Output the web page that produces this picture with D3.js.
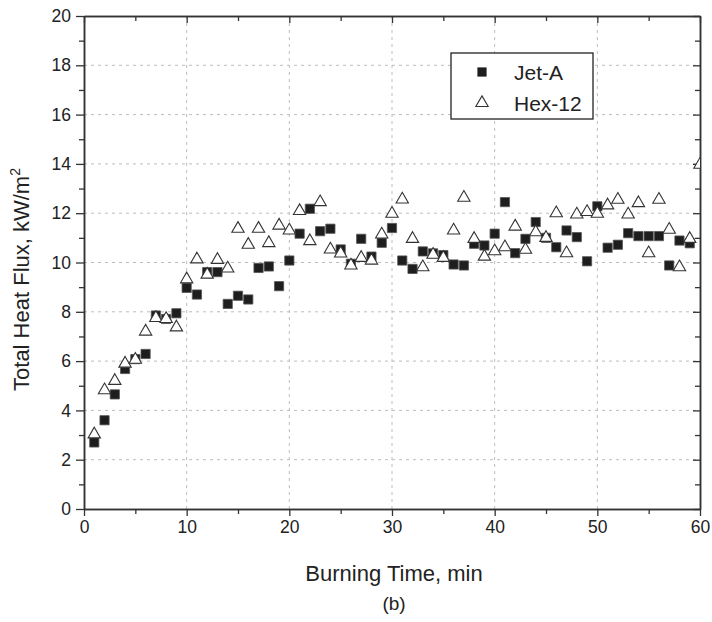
<!DOCTYPE html>
<html>
<head>
<meta charset="utf-8">
<script src="https://cdn.jsdelivr.net/npm/d3@7"></script>
<style>
  body { margin: 0; background: #fff; }
  text { font-family: "Liberation Sans", Arial, sans-serif; fill: #222; }
</style>
</head>
<body>
<div id="chart"></div>
<script>
const jetTime = d3.range(1, 60);
const jetFlux = [2.7, 3.6, 4.65, 5.68, 6.08, 6.29, 7.85, 7.71, 7.94, 8.97,
  8.70, 9.61, 9.61, 8.32, 8.65, 8.5, 9.78, 9.84, 9.04, 10.08,
  11.17, 12.18, 11.27, 11.37, 10.53, 9.95, 10.96, 10.24, 10.8, 11.4,
  10.08, 9.74, 10.45, 10.37, 10.3, 9.92, 9.88, 10.76, 10.69, 11.17,
  12.45, 10.38, 10.96, 11.64, 11.0, 10.62, 11.3, 11.03, 10.05, 12.28,
  10.6, 10.72, 11.19, 11.07, 11.07, 11.07, 9.88, 10.89, 10.78];

const hexTime = d3.range(1, 61);
const hexFlux = [3.03, 4.82, 5.2, 5.9, 6.06, 7.2, 7.75, 7.71, 7.37, 9.32,
  10.13, 9.51, 10.11, 9.76, 11.37, 10.72, 11.37, 10.79, 11.5, 11.3,
  12.09, 10.87, 12.45, 10.53, 10.37, 9.88, 10.19, 10.08, 11.14, 11.98,
  12.56, 10.96, 9.81, 10.32, 10.19, 11.3, 12.63, 10.96, 10.24, 10.46,
  10.62, 11.46, 10.52, 11.23, 11.0, 12.0, 10.38, 11.95, 12.05, 11.98,
  12.32, 12.55, 11.95, 12.41, 10.38, 12.55, 11.33, 9.81, 10.96, 13.97];

const xTicks = [0, 10, 20, 30, 40, 50, 60];
const yTicks = [0, 2, 4, 6, 8, 10, 12, 14, 16, 18, 20];
const seriesNames = ["Jet-A", "Hex-12"];

const margin = {top: 16, right: 12, bottom: 113, left: 84};
const width = 712 - margin.left - margin.right;
const height = 622 - margin.top - margin.bottom;

const svg = d3.select("#chart")
  .append("svg")
  .attr("width", 712)
  .attr("height", 622)
  .append("g")
  .attr("transform", `translate(${margin.left},${margin.top})`);

const x = d3.scaleLinear().domain([0, 60]).range([0, width]);
const y = d3.scaleLinear().domain([0, 20]).range([height, 0]);

// grid
svg.append("g").selectAll("line")
  .data(xTicks.slice(1, -1))
  .enter().append("line")
  .attr("x1", d => x(d)).attr("x2", d => x(d))
  .attr("y1", 0).attr("y2", height)
  .attr("stroke", "#bdbdbd").attr("stroke-dasharray", "3,4");
svg.append("g").selectAll("line")
  .data(yTicks.slice(1, -1))
  .enter().append("line")
  .attr("x1", 0).attr("x2", width)
  .attr("y1", d => y(d)).attr("y2", d => y(d))
  .attr("stroke", "#bdbdbd").attr("stroke-dasharray", "3,4");

// axes
function styleAxis(g) {
  g.select(".domain").attr("stroke", "#333").attr("stroke-width", 1.5);
  g.selectAll(".tick line").attr("stroke", "#333").attr("stroke-width", 1.3);
  g.selectAll("text").style("font-size", "17.5px").attr("fill", "#222");
}
const xMinor = d3.range(5, 60, 10);
const yMinor = d3.range(1, 20, 2);

svg.append("g")
  .attr("transform", `translate(0,${height})`)
  .call(d3.axisBottom(x).tickValues(xTicks).tickSize(7).tickPadding(5).tickSizeOuter(0))
  .call(styleAxis);
svg.append("g")
  .attr("transform", `translate(0,${height})`)
  .call(d3.axisBottom(x).tickValues(xMinor).tickSize(5).tickFormat("").tickSizeOuter(0))
  .call(styleAxis);
svg.append("g")
  .call(d3.axisTop(x).tickValues(xTicks).tickSize(-7).tickFormat("").tickSizeOuter(0))
  .call(styleAxis);
svg.append("g")
  .call(d3.axisTop(x).tickValues(xMinor).tickSize(-5).tickFormat("").tickSizeOuter(0))
  .call(styleAxis);

svg.append("g")
  .call(d3.axisLeft(y).tickValues(yTicks).tickSize(8).tickPadding(5).tickSizeOuter(0))
  .call(styleAxis);
svg.append("g")
  .call(d3.axisLeft(y).tickValues(yMinor).tickSize(5).tickFormat("").tickSizeOuter(0))
  .call(styleAxis);
svg.append("g")
  .attr("transform", `translate(${width},0)`)
  .call(d3.axisRight(y).tickValues(yTicks).tickSize(-7).tickFormat("").tickSizeOuter(0))
  .call(styleAxis);
svg.append("g")
  .attr("transform", `translate(${width},0)`)
  .call(d3.axisRight(y).tickValues(yMinor).tickSize(-5).tickFormat("").tickSizeOuter(0))
  .call(styleAxis);

// clip for points on the border
svg.append("clipPath").attr("id", "plotclip")
  .append("rect").attr("width", width).attr("height", height);

const jetData = jetTime.map((t, i) => ({t: t, v: jetFlux[i]}));
const hexData = hexTime.map((t, i) => ({t: t, v: hexFlux[i]}));

const pts = svg.append("g").attr("clip-path", "url(#plotclip)");

pts.selectAll(".jet")
  .data(jetData)
  .enter().append("path")
  .attr("class", "jet")
  .attr("d", d3.symbol(d3.symbolSquare, 85))
  .attr("transform", d => `translate(${x(d.t)},${y(d.v)})`)
  .attr("fill", "#1e1e1e")
  .attr("stroke", "#555").attr("stroke-width", 0.8);

pts.selectAll(".hex")
  .data(hexData)
  .enter().append("path")
  .attr("class", "hex")
  .attr("d", d3.symbol(d3.symbolTriangle, 66))
  .attr("transform", d => `translate(${x(d.t)},${y(d.v)})`)
  .attr("fill", "#fff")
  .attr("stroke", "#333").attr("stroke-width", 1.1);

// legend
const legend = svg.append("g").attr("transform", `translate(${451 - margin.left},${53 - margin.top})`);
legend.append("rect")
  .attr("width", 142).attr("height", 66)
  .attr("fill", "#fff").attr("stroke", "#222").attr("stroke-width", 1.3);
legend.append("path")
  .attr("d", d3.symbol(d3.symbolSquare, 85))
  .attr("transform", "translate(31,19)")
  .attr("fill", "#1e1e1e");
legend.append("path")
  .attr("d", d3.symbol(d3.symbolTriangle, 66))
  .attr("transform", "translate(31,50)")
  .attr("fill", "#fff").attr("stroke", "#333").attr("stroke-width", 1.1);
legend.selectAll(".lt")
  .data(seriesNames)
  .enter().append("text")
  .attr("x", 63)
  .attr("y", (d, i) => 27 + i * 31)
  .style("font-size", "21px")
  .text(d => d);

// titles
svg.append("text")
  .attr("x", x(30) + 2)
  .attr("y", height + 72)
  .attr("text-anchor", "middle")
  .style("font-size", "22px")
  .text("Burning Time, min");

svg.append("text")
  .attr("x", x(30) + 2)
  .attr("y", height + 101)
  .attr("text-anchor", "middle")
  .style("font-size", "19px")
  .text("(b)");

const yl = svg.append("text")
  .attr("transform", `translate(-55,${height / 2 + 17}) rotate(-90)`)
  .attr("text-anchor", "middle")
  .style("font-size", "22px");
yl.append("tspan").text("Total Heat Flux, kW/m");
yl.append("tspan").attr("dy", -9).style("font-size", "14px").text("2");
</script>
</body>
</html>
